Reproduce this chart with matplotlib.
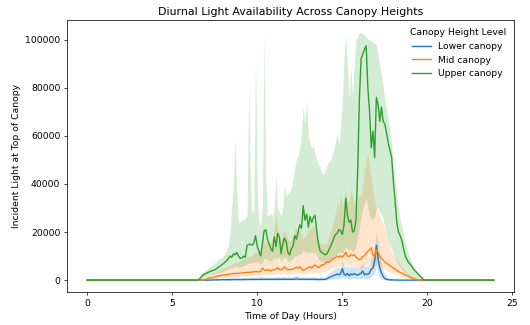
import numpy as np
import matplotlib
matplotlib.use("Agg")
import matplotlib.pyplot as plt

# Time grid: every 0.1 h over the day
hours = np.round(np.arange(0, 24, 0.1), 1)
day_start = 6.5  # first value of the "day" lists below (0.1 h steps up to 19.9)
n_before = 65    # night points 0.0 .. 6.4
n_after = 40     # night points 20.0 .. 23.9

series_names = ["Lower canopy", "Mid canopy", "Upper canopy"]

# ---- values in thousands of light units, 6.5 h .. 19.9 h ----
upper_mean_k = [0, 0.5, 1.2, 2.0, 2.5,
    2.8, 3.2, 3.5, 3.8, 4.0, 4.3, 4.8, 5.3, 5.8, 6.2,
    6.8, 7.5, 8.0, 9.0, 10.0, 9.5, 11.0, 10.5, 11.5, 10.0,
    9.0, 9.2, 10.0, 9.5, 14.5, 14.8, 15.0, 14.5, 15.5, 18.5,
    14.0, 12.0, 10.0, 15.0, 20.5, 21.0, 17.0, 15.0, 13.0, 12.0,
    18.0, 14.0, 19.5, 18.0, 11.0, 15.0, 17.5, 16.0, 11.5, 10.5,
    13.0, 14.0, 18.5, 17.0, 20.0, 23.0, 21.5, 31.0, 25.0, 27.5,
    22.0, 26.5, 24.0, 26.0, 27.0, 20.0, 15.0, 12.0, 11.5, 11.0,
    10.5, 11.0, 12.5, 14.0, 15.5, 17.5, 19.0, 19.5, 21.0, 20.5,
    19.0, 23.0, 34.0, 27.0, 24.0, 25.0, 20.0, 20.5, 25.0, 45.0,
    75.0, 92.0, 94.0, 96.0, 97.5, 80.0, 70.0, 55.0, 62.0, 51.0,
    76.0, 73.0, 66.0, 72.0, 66.0, 65.0, 61.0, 57.0, 54.0, 51.0,
    41.0, 33.0, 24.0, 20.0, 18.5, 16.4, 13.0, 10.0, 8.6, 7.2,
    6.5, 5.5, 4.4, 3.7, 3.0, 2.2, 1.5, 0.8, 0.0, 0.0]
upper_hi_k = [0, 1.5, 2.5, 3.5, 4.0,
    4.5, 5.0, 5.5, 6.0, 6.5, 7.2, 8.0, 8.5, 9.0, 9.5,
    10.0, 11.0, 12.5, 14.0, 20.0, 31.0, 40.0, 59.0, 35.0, 24.0,
    24.0, 25.0, 25.0, 26.0, 27.0, 81.0, 40.0, 27.0, 30.0, 94.0,
    35.0, 24.0, 22.0, 30.0, 103.0, 40.0, 27.0, 27.0, 28.0, 26.0,
    30.0, 44.0, 30.0, 28.0, 27.0, 30.0, 40.0, 35.0, 36.0, 37.0,
    38.0, 42.0, 47.0, 50.0, 52.0, 55.0, 62.0, 72.0, 65.0, 75.0,
    60.0, 57.0, 55.0, 56.0, 52.0, 50.0, 48.0, 47.0, 45.0, 44.0,
    46.0, 48.0, 49.0, 50.0, 52.0, 54.0, 58.0, 61.0, 56.0, 65.0,
    75.0, 92.0, 102.0, 88.0, 75.0, 89.0, 76.0, 90.0, 100.0, 101.0,
    103.0, 103.0, 102.5, 102.0, 101.0, 100.5, 100.0, 99.5, 99.0, 98.5,
    97.5, 94.0, 89.0, 85.0, 80.5, 75.0, 71.0, 66.5, 61.0, 56.5,
    47.0, 41.0, 35.5, 30.0, 25.5, 22.0, 18.5, 15.5, 13.0, 10.5,
    8.6, 7.0, 5.5, 4.4, 3.2, 2.3, 1.5, 0.8, 0.0, 0.0]
upper_lo_k = [0, 0, 0.5, 1.0, 1.3,
    1.5, 1.7, 2.0, 2.2, 2.4, 2.6, 2.8, 3.0, 3.2, 3.4,
    3.6, 4.0, 4.3, 4.6, 5.0, 5.0, 5.3, 5.5, 5.5, 5.5,
    5.5, 5.8, 6.0, 6.3, 6.8, 7.0, 7.0, 7.2, 7.4, 7.5,
    7.5, 7.0, 6.5, 7.5, 9.0, 9.0, 8.5, 8.0, 8.0, 8.0,
    9.5, 8.5, 9.5, 9.5, 8.0, 9.0, 9.5, 9.0, 8.0, 7.5,
    8.5, 9.0, 10.0, 10.0, 10.5, 11.0, 11.0, 12.5, 11.5, 12.0,
    11.0, 12.0, 11.5, 11.5, 11.5, 10.0, 8.5, 8.0, 7.5, 7.5,
    7.0, 7.5, 8.0, 8.5, 9.0, 10.0, 10.5, 11.0, 11.5, 11.5,
    11.5, 12.0, 14.0, 13.0, 12.5, 13.0, 12.0, 12.0, 14.0, 18.0,
    22.0, 26.0, 30.0, 32.0, 34.0, 30.0, 27.0, 25.0, 26.0, 26.0,
    30.0, 30.0, 28.0, 27.0, 25.0, 22.0, 19.0, 16.0, 14.5, 13.0,
    11.0, 9.0, 7.5, 6.5, 5.5, 4.5, 3.5, 2.8, 2.2, 1.8,
    1.5, 1.2, 1.0, 0.8, 0.6, 0.4, 0.2, 0.1, 0.0, 0.0]

mid_mean_k = [0, 0, 0, 0.1, 0.3,
    0.5, 0.7, 0.9, 1.0, 1.2, 1.3, 1.5, 1.7, 1.8, 2.0,
    2.1, 2.2, 2.3, 2.4, 2.5, 2.6, 2.8, 2.7, 2.9, 2.8,
    2.9, 3.0, 3.0, 3.1, 3.2, 3.3, 3.2, 3.4, 3.5, 3.6,
    3.5, 3.4, 3.6, 5.0, 4.2, 4.0, 4.3, 4.1, 3.9, 4.2,
    4.4, 4.6, 5.2, 4.5, 4.3, 4.8, 5.5, 4.6, 4.2, 4.5,
    4.4, 4.6, 5.0, 5.3, 5.0, 5.6, 4.8, 4.0, 4.4, 4.8,
    5.2, 5.5, 5.0, 5.9, 6.3, 5.6, 5.2, 5.8, 6.5, 6.2,
    7.0, 7.5, 7.3, 8.0, 8.5, 9.0, 9.5, 10.0, 9.5, 10.2,
    9.5, 10.5, 11.5, 10.0, 9.8, 10.5, 10.2, 10.6, 9.5, 9.0,
    8.5, 8.8, 9.8, 10.2, 11.0, 12.0, 12.5, 13.5, 10.5, 10.0,
    12.8, 11.5, 10.0, 9.0, 8.3, 7.5, 7.0, 6.5, 6.0, 5.5,
    5.0, 4.5, 4.0, 3.6, 3.2, 2.8, 2.5, 2.1, 1.8, 1.5,
    1.2, 0.9, 0.7, 0.4, 0.2, 0.0, 0.0, 0.0, 0.0, 0.0]
mid_hi_k = [0, 0, 0, 0.3, 0.8,
    1.2, 1.6, 2.0, 2.4, 2.8, 3.2, 3.6, 4.0, 4.3, 4.6,
    5.0, 5.3, 5.6, 5.9, 6.2, 6.5, 7.0, 7.5, 7.5, 7.5,
    8.0, 8.5, 9.0, 9.0, 9.5, 10.0, 10.0, 10.5, 11.0, 11.5,
    12.0, 11.0, 12.0, 20.0, 16.0, 15.0, 16.0, 15.0, 16.0, 18.0,
    22.0, 29.0, 20.0, 18.0, 17.0, 20.0, 21.0, 19.0, 17.0, 16.0,
    17.0, 18.0, 21.0, 22.0, 20.0, 21.0, 19.0, 17.0, 18.0, 19.0,
    20.0, 22.0, 21.0, 23.0, 21.0, 18.0, 16.0, 15.0, 15.5, 15.0,
    15.0, 16.0, 18.0, 20.0, 22.0, 25.0, 28.0, 33.0, 30.0, 36.0,
    30.0, 34.0, 38.0, 33.0, 33.0, 38.0, 35.0, 32.0, 30.0, 33.0,
    36.0, 35.0, 40.0, 45.0, 50.0, 53.0, 47.0, 42.0, 37.0, 33.0,
    30.0, 29.0, 27.0, 25.0, 23.0, 21.0, 19.0, 16.0, 13.5, 12.0,
    10.5, 9.5, 8.5, 7.5, 6.5, 5.5, 4.5, 3.7, 3.0, 2.4,
    1.9, 1.5, 1.1, 0.7, 0.4, 0.1, 0.0, 0.0, 0.0, 0.0]
mid_lo_k = [0, 0, 0, 0, 0,
    0.1, 0.2, 0.3, 0.4, 0.5, 0.6, 0.7, 0.8, 0.9, 1.0,
    1.0, 1.1, 1.1, 1.2, 1.2, 1.3, 1.3, 1.4, 1.4, 1.5,
    1.5, 1.6, 1.6, 1.7, 1.7, 1.8, 1.8, 1.9, 1.9, 2.0,
    2.0, 2.0, 2.1, 2.5, 2.3, 2.2, 2.3, 2.3, 2.2, 2.4,
    2.5, 2.6, 2.8, 2.5, 2.4, 2.7, 3.0, 2.6, 2.4, 2.6,
    2.5, 2.6, 2.8, 3.0, 2.8, 3.1, 2.7, 2.3, 2.5, 2.7,
    2.9, 3.1, 2.8, 3.3, 3.5, 3.2, 3.0, 3.3, 3.7, 3.6,
    4.0, 4.3, 4.2, 4.6, 5.0, 5.3, 5.6, 6.0, 5.7, 6.0,
    5.6, 6.2, 6.8, 6.0, 5.8, 6.2, 6.0, 6.3, 5.6, 5.3,
    5.0, 5.2, 5.6, 6.0, 6.5, 7.0, 7.8, 7.0, 6.0, 5.5,
    7.0, 6.5, 5.7, 5.1, 4.6, 4.3, 4.0, 3.7, 3.4, 3.1,
    2.8, 2.5, 2.2, 2.0, 1.8, 1.6, 1.4, 1.2, 1.0, 0.8,
    0.6, 0.4, 0.3, 0.2, 0.1, 0.0, 0.0, 0.0, 0.0, 0.0]

lower_mean_k = [0, 0, 0, 0, 0,
    0, 0, 0, 0.05, 0.1, 0.1, 0.1, 0.15, 0.1, 0.15,
    0.2, 0.15, 0.2, 0.2, 0.15, 0.2, 0.25, 0.2, 0.2, 0.25,
    0.2, 0.25, 0.2, 0.3, 0.25, 0.3, 0.25, 0.3, 0.3, 0.25,
    0.3, 0.3, 0.35, 0.3, 0.3, 0.35, 0.3, 0.3, 0.35, 0.3,
    0.35, 0.3, 0.4, 0.3, 0.35, 0.3, 0.4, 0.35, 0.3, 0.35,
    0.3, 0.35, 0.4, 0.5, 0.4, 0.35, 0.3, 0.35, 0.3, 0.35,
    0.3, 0.35, 0.3, 0.35, 0.3, 0.3, 0.25, 0.3, 0.3, 0.3,
    0.3, 0.6, 1.0, 1.3, 1.6, 2.0, 2.2, 2.5, 2.3, 2.6,
    4.8, 2.5, 2.0, 2.8, 1.8, 2.6, 2.2, 2.8, 2.3, 2.0,
    2.5, 2.8, 3.8, 2.2, 2.6, 2.4, 3.0, 4.5, 5.0, 8.0,
    14.5, 9.0, 5.0, 3.0, 1.5, 0.6, 0.3, 0.2, 0.1, 0.1,
    0.05, 0.05, 0.05, 0, 0, 0, 0, 0, 0, 0,
    0, 0, 0, 0, 0, 0, 0, 0, 0, 0]
lower_hi_k = [0, 0, 0, 0, 0,
    0, 0, 0, 0.3, 0.5, 0.6, 0.6, 0.7, 0.7, 0.8,
    0.8, 0.8, 0.9, 0.9, 0.9, 1.0, 1.0, 1.0, 1.0, 1.1,
    1.0, 1.1, 1.1, 1.2, 1.1, 1.2, 1.2, 1.2, 1.3, 1.2,
    1.3, 1.3, 1.4, 1.3, 1.3, 1.4, 1.3, 1.3, 1.4, 1.3,
    1.4, 1.3, 1.5, 1.3, 1.4, 1.3, 1.5, 1.4, 1.3, 1.4,
    1.3, 1.5, 1.8, 2.0, 1.8, 1.5, 1.3, 1.4, 1.3, 1.4,
    1.3, 1.4, 1.3, 1.4, 1.3, 1.3, 1.2, 1.3, 1.3, 1.2,
    1.2, 2.0, 2.8, 3.5, 4.0, 4.5, 5.0, 5.5, 5.2, 5.5,
    8.0, 6.0, 5.5, 6.0, 5.0, 6.0, 5.5, 6.0, 5.5, 5.0,
    5.5, 6.0, 7.0, 5.5, 6.0, 6.0, 7.0, 9.0, 10.0, 14.0,
    20.0, 16.0, 10.0, 6.5, 4.0, 2.5, 1.5, 1.0, 0.8, 0.6,
    0.5, 0.4, 0.3, 0.3, 0.2, 0.2, 0.1, 0.1, 0.1, 0.1,
    0, 0, 0, 0, 0, 0, 0, 0, 0, 0]
lower_lo_k = [0, 0, 0, 0, 0,
    0, 0, 0, 0, 0, 0, 0, 0, 0, 0,
    0, 0, 0, 0, 0, 0, 0, 0, 0, 0,
    0, 0, 0, 0, 0, 0, 0, 0, 0, 0,
    0, 0, 0, 0, 0, 0, 0, 0, 0, 0,
    0, 0, 0, 0, 0, 0, 0, 0, 0, 0,
    0, 0, 0, 0, 0, 0, 0, 0, 0, 0,
    0, 0, 0, 0, 0, 0, 0, 0, 0, 0,
    0, 0.1, 0.2, 0.3, 0.4, 0.5, 0.5, 0.6, 0.5, 0.6,
    1.5, 0.8, 0.6, 0.8, 0.5, 0.7, 0.6, 0.8, 0.6, 0.5,
    0.6, 0.7, 1.0, 0.6, 0.7, 0.7, 0.9, 1.5, 2.0, 3.0,
    6.0, 3.0, 1.0, 0.5, 0.2, 0.1, 0, 0, 0, 0,
    0, 0, 0, 0, 0, 0, 0, 0, 0, 0,
    0, 0, 0, 0, 0, 0, 0, 0, 0, 0]


def full(day_k):
    """Pad a daytime list (thousands) with the zero night values and convert to units."""
    return np.concatenate([np.zeros(n_before), np.array(day_k, float), np.zeros(n_after)]) * 1000.0


series = [
    (series_names[0], lower_mean_k, lower_lo_k, lower_hi_k, "#1f77b4"),
    (series_names[1], mid_mean_k, mid_lo_k, mid_hi_k, "#ff7f0e"),
    (series_names[2], upper_mean_k, upper_lo_k, upper_hi_k, "#2ca02c"),
]

fig = plt.figure(figsize=(8, 4.906), dpi=66.25)
ax = fig.add_axes([0.126, 0.10, 0.844, 0.838])

for name, m, lo, hi, col in series:
    ax.fill_between(hours, full(lo), full(hi), color=col, alpha=0.2, linewidth=0)
for name, m, lo, hi, col in series:
    ax.plot(hours, full(m), color=col, linewidth=1.5, label=name)

ax.set_title("Diurnal Light Availability Across Canopy Heights", fontsize=12)
ax.set_xlabel("Time of Day (Hours)", fontsize=10)
ax.set_ylabel("Incident Light at Top of Canopy", fontsize=10)
ax.set_xticks([0, 5, 10, 15, 20, 25])
ax.legend(title="Canopy Height Level", loc="upper right", frameon=False, fontsize=10, title_fontsize=10)

fig.savefig("out.png", dpi=66.25)
